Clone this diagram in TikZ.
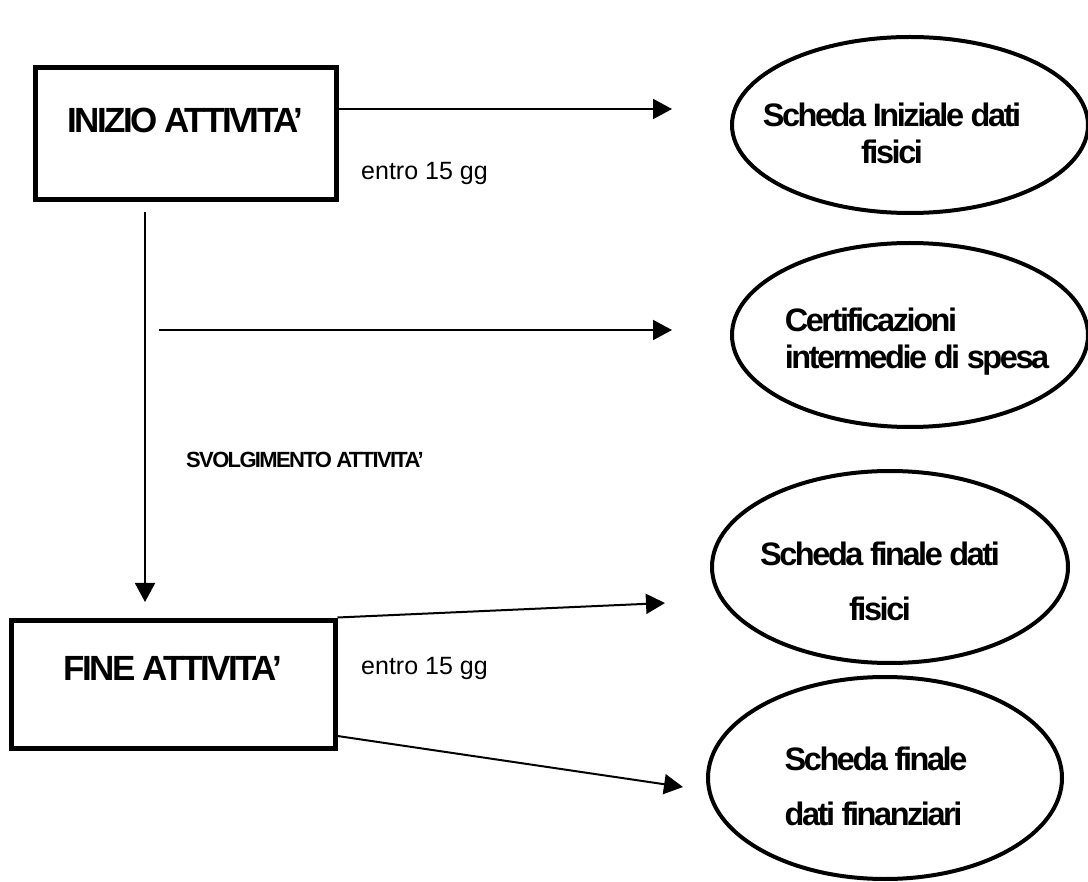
\documentclass[tikz,border=0pt]{standalone}
\usepackage{fontspec}
\setmainfont{Liberation Sans}
\newfontfamily\tightsans[LetterSpace=-7.5]{Liberation Sans}
\usetikzlibrary{arrows.meta}
\usetikzlibrary{shapes.geometric}
\usetikzlibrary{positioning}

\begin{document}
\begin{tikzpicture}
  [
    x=1pt,y=-1pt,
    stage/.style={draw,line width=5pt,inner sep=0pt,text height=25pt,
      font=\tightsans\bfseries\fontsize{35}{40}\selectfont},
    sheet/.style={draw,ellipse,line width=4pt,inner sep=0pt},
    sheettext/.style={inner sep=0pt,
      font=\tightsans\bfseries\fontsize{32.5}{37}\selectfont},
    flow/.style={-{Triangle[length=19pt,width=20pt]},line width=2pt},
    note/.style={anchor=west,inner sep=0pt,font=\fontsize{25}{30}\selectfont},
  ]
    \useasboundingbox (0,0) rectangle (1088,882);
    % start and end of the activity
    \node [stage,minimum width=301pt,minimum height=132pt,text depth=28pt] (inizio) at (185.5,134) {INIZIO ATTIVITA’};
    \node [stage,minimum width=324pt,minimum height=128pt,text depth=32pt] (fine) at (173,684) {FINE ATTIVITA’};
    % documents
    \node [sheet,minimum width=356pt,minimum height=176pt,
      label={[sheettext,align=center,xshift=-18pt,yshift=-8pt]center:{Scheda Iniziale dati\\fisici}}] (iniziale) at (910,125) {};
    \node [sheet,minimum width=356pt,minimum height=184pt,
      label={[sheettext,align=left,xshift=7pt,yshift=-7pt]center:{Certificazioni\\intermedie di spesa}}] (intermedie) at (910,335) {};
    \node [sheet,minimum width=356pt,minimum height=192pt,
      label={[sheettext,align=center,xshift=-10pt,yshift=-14pt]center:{Scheda finale dati\\[18pt]fisici}}] (finfisici) at (890,567) {};
    \node [sheet,minimum width=354pt,minimum height=202pt,
      label={[sheettext,align=left,xshift=-9pt,yshift=-8pt]center:{Scheda finale\\[18pt]dati finanziari}}] (finanziari) at (885,778) {};
    % labels
    \node [note] (gg1) at (361,173) {entro 15 gg};
    \node [note] (gg2) at (361,668) {entro 15 gg};
    \node [note,font=\tightsans\bfseries\fontsize{22}{26}\selectfont] (svolg) at (186,460) {SVOLGIMENTO ATTIVITA’};
    % arrow ends
    \coordinate (t1) at (672,109);
    \coordinate (s2) at (159,330);
    \coordinate (t2) at (672,330);
    \coordinate (v1) at (145,212);
    \coordinate (v2) at (145,602);
    \coordinate (t3) at (665,603);
    \coordinate (t4) at (683,787);
    % arrows
    \draw [flow] (inizio.east |- t1) -- (t1);
    \draw [flow] (s2) -- (t2);
    \draw [flow] (v1) -- (v2);
    \draw [flow] (fine.north east) -- (t3);
    \draw [flow] ([yshift=-52pt]fine.east) -- (t4);
  \end{tikzpicture}
\end{document}
